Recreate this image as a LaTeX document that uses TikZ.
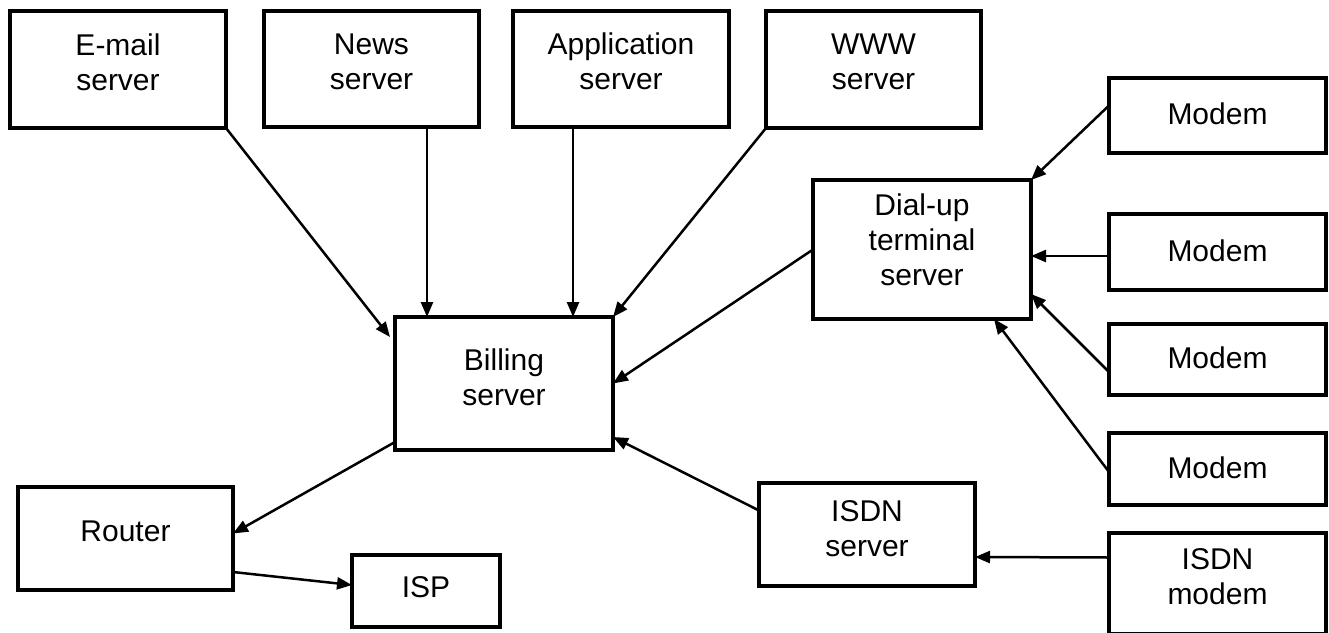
\documentclass[tikz,border=0pt]{standalone}
\usepackage{fontspec}
\setmainfont{Liberation Sans}
\usetikzlibrary{arrows.meta}
\begin{document}
\begin{tikzpicture}[x=1pt,y=-1pt,
  box/.style={draw, line width=3.4pt, rectangle, inner sep=0pt, outer sep=0pt},
  lbl/.style={align=center, inner sep=0pt, font=\fontsize{30}{35}\selectfont},
  link/.style={line width=2.5pt, -{Triangle[length=15pt,width=12pt]}}]
\useasboundingbox (0,0) rectangle (1329,632);

% servers along the top
\node[box, minimum width=216pt, minimum height=117pt] (email) at (118,69.5) {};
\node[box, minimum width=215pt, minimum height=116pt] (news) at (371.5,69) {};
\node[box, minimum width=216pt, minimum height=116pt] (app) at (621,69) {};
\node[box, minimum width=215pt, minimum height=117pt] (www) at (873.5,69.5) {};

% dial-up side
\node[box, minimum width=217pt, minimum height=75pt] (modem1) at (1217.5,115.5) {};
\node[box, minimum width=218pt, minimum height=139pt] (dialup) at (922,249.5) {};
\node[box, minimum width=217pt, minimum height=76pt] (modem2) at (1217.5,252) {};
\node[box, minimum width=217pt, minimum height=71pt] (modem3) at (1217.5,359.5) {};
\node[box, minimum width=217pt, minimum height=72pt] (modem4) at (1217.5,469) {};

% ISDN side
\node[box, minimum width=217pt, minimum height=101pt] (isdnmodem) at (1217.5,583.5) {};
\node[box, minimum width=216pt, minimum height=103pt] (isdnserver) at (867,534.5) {};

% billing and outbound
\node[box, minimum width=218pt, minimum height=133pt] (billing) at (504,383.5) {};
\node[box, minimum width=215pt, minimum height=103pt] (router) at (125.5,538.5) {};
\node[box, minimum width=148pt, minimum height=72pt] (isp) at (426,591) {};

% box captions
\node[lbl] (email-t) at ([yshift=7.5pt]email.center) {E-mail\\server};
\node[lbl] (news-t) at ([yshift=7.5pt]news.center) {News\\server};
\node[lbl] (app-t) at ([yshift=7.5pt]app.center) {Application\\server};
\node[lbl] (www-t) at ([yshift=7.5pt]www.center) {WWW\\server};
\node[lbl] (modem1-t) at ([yshift=1.5pt]modem1.center) {Modem};
\node[lbl] (dialup-t) at ([yshift=10pt]dialup.center) {Dial-up\\terminal\\server};
\node[lbl] (modem2-t) at ([yshift=1.5pt]modem2.center) {Modem};
\node[lbl] (modem3-t) at ([yshift=1.5pt]modem3.center) {Modem};
\node[lbl] (modem4-t) at ([yshift=1.5pt]modem4.center) {Modem};
\node[lbl] (isdnmodem-t) at ([yshift=7pt]isdnmodem.center) {ISDN\\modem};
\node[lbl] (isdnserver-t) at ([yshift=6pt]isdnserver.center) {ISDN\\server};
\node[lbl] (billing-t) at ([yshift=6pt]billing.center) {Billing\\server};
\node[lbl] (router-t) at ([yshift=7pt]router.center) {Router};
\node[lbl] (isp-t) at ([yshift=3.5pt]isp.center) {ISP};

% connectors into the billing server
\draw[link] (email.south east) -- ([xshift=-5pt,yshift=-20pt]billing.north west);
\draw[link] ([xshift=-52pt]news.south east) -- ([xshift=32pt]billing.north west);
\draw[link] ([xshift=60pt]app.south west) -- ([xshift=-40pt]billing.north east);
\draw[link] (www.south west) -- (billing.north east);
\draw[link] (dialup.west) -- (billing.east);
\draw[link] ([yshift=24pt]isdnserver.west) -- ([yshift=13pt]billing.south east);

% outbound path
\draw[link] ([yshift=8pt]billing.south west) -- ([yshift=5pt]router.east);
\draw[link] ([yshift=18pt]router.south east) -- ([yshift=6pt]isp.west);

% modems into the access servers
\draw[link] ([yshift=10pt]modem1.west) -- (dialup.north east);
\draw[link] ([yshift=-4pt]modem2.west) -- ([yshift=-6.5pt]dialup.east);
\draw[link] ([yshift=-12.5pt]modem3.west) -- ([yshift=25pt]dialup.south east);
\draw[link] ([yshift=-3pt]modem4.west) -- ([xshift=-37pt]dialup.south east);
\draw[link] ([yshift=26pt]isdnmodem.west) -- ([yshift=-22.5pt]isdnserver.east);
\end{tikzpicture}
\end{document}
